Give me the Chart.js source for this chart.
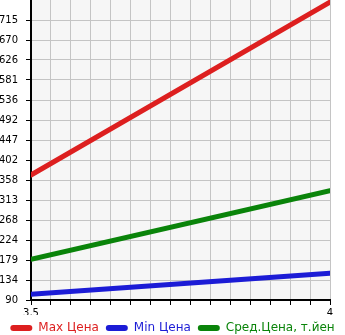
<!DOCTYPE html>
<html>
<head>
<meta charset="utf-8">
<script src="https://cdn.jsdelivr.net/npm/chart.js@4/dist/chart.umd.min.js"></script>
<style>
html,body{margin:0;padding:0;background:#fff;}
#wrap{width:345px;height:335px;position:relative;}
</style>
</head>
<body>
<div id="wrap"><canvas id="c"></canvas></div>
<script>
const xValues = [3.5, 4];
const maxPrice = [369, 755];
const minPrice = [103, 150];
const avgPrice = [181, 334];
const yTickLabels = ["90","134","179","224","268","313","358","402","447","492","536","581","626","670","715"];
const seriesNames = ["Max Цена", "Min Цена", "Сред.Цена, т.йен"];
const seriesColors = ["#dd1f1f", "#1c1cd6", "#0a840a"];

const yMin = 90, yStep = 625/14, yMax = 90 + 15*yStep;
const xMin = 3.5, xMax = 4, xDiv = 15;

const bgPlugin = {
  id: 'bg',
  beforeDraw(chart) {
    const {ctx, chartArea: a} = chart;
    ctx.save();
    ctx.fillStyle = '#f6f6f6';
    ctx.fillRect(a.left, a.top, a.right - a.left, a.bottom - a.top);
    ctx.restore();
  }
};

function pts(vals){ return xValues.map((x,i)=>({x:x,y:vals[i]})); }
const allSeries = [maxPrice, minPrice, avgPrice];

new Chart(document.getElementById('c'), {
  type: 'line',
  data: {
    datasets: allSeries.map((v,i)=>({
      label: seriesNames[i],
      data: pts(v),
      borderColor: seriesColors[i],
      backgroundColor: seriesColors[i],
      borderWidth: 5,
      pointRadius: 0,
      tension: 0,
      borderCapStyle: 'round',
      yAxisID: 'y'
    }))
  },
  options: {
    responsive: true,
    maintainAspectRatio: false,
    animation: false,
    layout: {padding: 0},
    plugins: {
      tooltip: {enabled: false},
      legend: {
        position: 'bottom',
        maxHeight: 20,
        labels: {
          boxWidth: 22,
          boxHeight: 6,
          padding: 7,
          useBorderRadius: true,
          borderRadius: 3,
          font: {family: 'DejaVu Sans', size: 12},
          generateLabels(chart) {
            return chart.data.datasets.map((d,i)=>({
              text: d.label,
              fillStyle: seriesColors[i],
              strokeStyle: seriesColors[i],
              fontColor: seriesColors[i],
              lineWidth: 0,
              borderRadius: 3,
              datasetIndex: i,
              hidden: false
            }));
          }
        }
      }
    },
    scales: {
      x: {
        type: 'linear',
        min: xMin, max: xMax,
        afterBuildTicks(scale) {
          const t = [];
          for (let i = 0; i <= xDiv; i++) t.push({value: xMin + (xMax - xMin) * i / xDiv});
          scale.ticks = t;
        },
        afterFit(scale) { scale.paddingLeft = 0; scale.paddingRight = 0; scale.height = 15; },
        ticks: {
          autoSkip: false, maxRotation: 0, padding: 2,
          color: '#000',
          font: {family: 'DejaVu Sans', size: 10},
          callback(v, i) { return i === 0 ? '3,5' : (i === xDiv ? '4' : ''); }
        },
        grid: {color: '#c4c4c4', lineWidth: 1, tickLength: 5, tickColor: '#000'},
        border: {color: '#000', width: 2}
      },
      y: {
        type: 'linear',
        position: 'left',
        min: yMin, max: yMax,
        afterBuildTicks(scale) {
          scale.ticks = yTickLabels.map((l,i)=>({value: yMin + i*yStep}));
        },
        afterFit(scale) { scale.width = 31; scale.paddingTop = 0; scale.paddingBottom = 0; },
        ticks: {
          autoSkip: false, padding: 8,
          color: '#000',
          font: {family: 'DejaVu Sans', size: 10},
          callback(v, i) { return yTickLabels[i]; }
        },
        grid: {color: '#c4c4c4', lineWidth: 1, tickLength: 5, tickColor: '#000'},
        border: {color: '#000', width: 2}
      },
      yRight: {
        type: 'linear',
        position: 'right',
        min: yMin, max: yMax,
        afterFit(scale) { scale.width = 15; scale.paddingTop = 0; scale.paddingBottom = 0; },
        ticks: {display: false},
        grid: {display: false, drawTicks: false},
        border: {display: false}
      }
    }
  },
  plugins: [bgPlugin]
});
</script>
</body>
</html>
